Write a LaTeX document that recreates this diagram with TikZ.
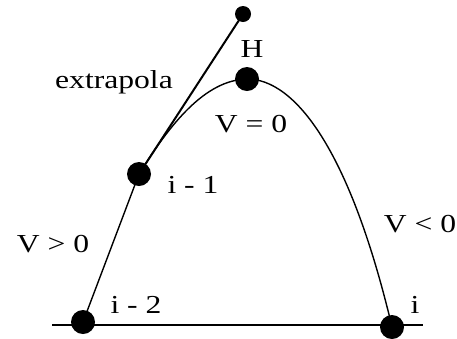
\documentclass[tikz,border=0pt]{standalone}
\usepackage{fontspec}
\setmainfont{Liberation Serif}

\begin{document}
\begin{tikzpicture}
[x=1bp, y=-1bp,
 lbl/.style={font=\fontsize{26}{26}\selectfont, inner sep=0pt, anchor=base, xscale=1.22, transform shape},
 dot/.style={fill=black, circle, inner sep=0pt, minimum size=#1}
]
\useasboundingbox (0,0) rectangle (457,338);

\coordinate (L) at (52,325);
\coordinate (R) at (423,325);
\node[dot=24bp] (i2) at (83,322) {};
\node[dot=24bp] (i1) at (139,174) {};
\node[dot=24bp] (H) at (247,79) {};
\node[dot=24bp] (i0) at (392,327) {};
\node[dot=16bp] (ex) at (243,14) {};

\draw[line width=1.3bp] (L) -- (R);
\draw[line width=1.4bp] (i2.center) -- (i1.center)
  .. controls (170,124) and (205,80) .. (H.center)% top of the arc
  .. controls (295,79) and (350,150) .. (i0.center);
\draw[line width=2bp] (i1.center) -- (ex.center);

\node[lbl] (tH) at (252,57) {H};
\node[lbl] (tex) at (114,88) {extrapola};
\node[lbl] (tv0) at (251,132) {V = 0};
\node[lbl] (ti1) at (193,193) {i - 1};
\node[lbl] (tvp) at (53,252) {V > 0};
\node[lbl] (tvn) at (420,232) {V < 0};
\node[lbl] (ti2) at (136,313) {i - 2};
\node[lbl] (ti0) at (415,313) {i};

\end{tikzpicture}
\end{document}
